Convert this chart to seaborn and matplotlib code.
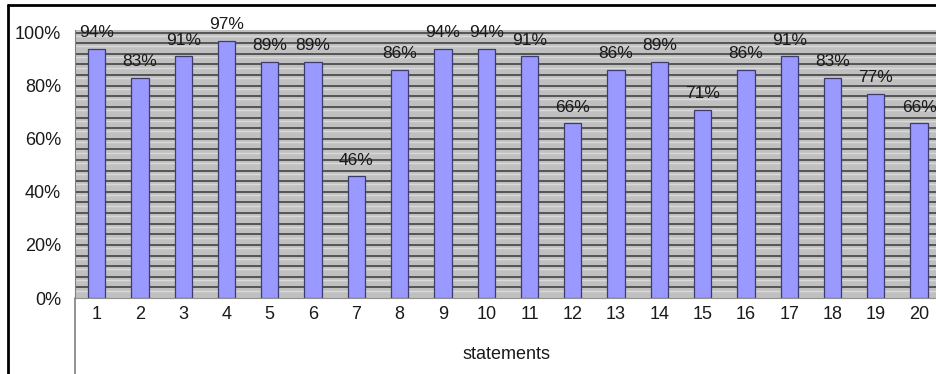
import numpy as np
import matplotlib
matplotlib.use("Agg")
import matplotlib.pyplot as plt
from matplotlib.ticker import MultipleLocator, FixedLocator, PercentFormatter
from matplotlib.lines import Line2D
import seaborn as sns

# data
statements = [str(i) for i in range(1, 21)]
agree_pct = [94, 83, 91, 97, 89, 89, 46, 86, 94, 94, 91, 66, 86, 89, 71, 86, 91, 83, 77, 66]
y_ticks = [0, 0.2, 0.4, 0.6, 0.8, 1.0]

sns.set_style("white")
plt.rcParams['font.family'] = ['Liberation Sans', 'DejaVu Sans']

fig = plt.figure(figsize=(9.37, 3.74), dpi=100)
ax = fig.add_axes([0.080, 0.203, 0.924, 0.717])
ax.set_facecolor("#c0c0c0")

vals = np.array(agree_pct) / 100
sns.barplot(x=statements, y=vals, color="#9999ff", edgecolor="#3c3c6e",
            linewidth=0.9, width=0.4, saturation=1, ax=ax, zorder=3)

ax.set_ylim(0, 1.01)
ax.set_xlim(-0.5, len(statements) - 0.5)

# dense horizontal grid
ax.yaxis.set_major_locator(FixedLocator(y_ticks))
ax.yaxis.set_major_formatter(PercentFormatter(1.0, decimals=0))
ax.grid(False)
for g in np.arange(0.04, 1.01, 0.04):
    ax.axhline(g, color="#555555", lw=1.4, zorder=1)
    ax.axhline(g - 0.012, color="#dadada", lw=1.0, zorder=1)
ax.tick_params(axis="y", which="both", length=0, pad=10, labelsize=13, labelcolor="#1a1a1a")

# category labels at centres, separators between categories
ax.set_xticks(range(len(statements)))
ax.set_xticklabels(statements)
ax.set_xticks(np.arange(0.5, len(statements) - 0.5, 1), minor=True)
ax.tick_params(axis="x", which="major", length=0, pad=6, labelsize=13, labelcolor="#1a1a1a")
ax.tick_params(axis="x", which="minor", length=31, width=1.2, color="#808080", direction="out")

for s in ["top", "right"]:
    ax.spines[s].set_visible(False)
ax.spines["left"].set_color("#808080")
ax.spines["bottom"].set_color("#909090")

ax.bar_label(ax.containers[0], labels=[f"{v}%" for v in agree_pct],
             padding=6, fontsize=12.5, color="#1a1a1a")

ax.set_xlabel("")
ax.set_ylabel("")
fig.text(0.541, 0.051, "statements", ha="center", va="center", fontsize=13, color="#1a1a1a")

# outer frame and category axis line
fig.add_artist(Line2D([0.0085, 1.0], [0.987, 0.987], color="black", lw=2))
fig.add_artist(Line2D([0.0085, 0.0085], [0.0, 0.987], color="black", lw=2))
fig.add_artist(Line2D([0.080, 0.080], [0.0, 0.203], color="#808080", lw=1.2))

fig.savefig("out.png", dpi=100)
